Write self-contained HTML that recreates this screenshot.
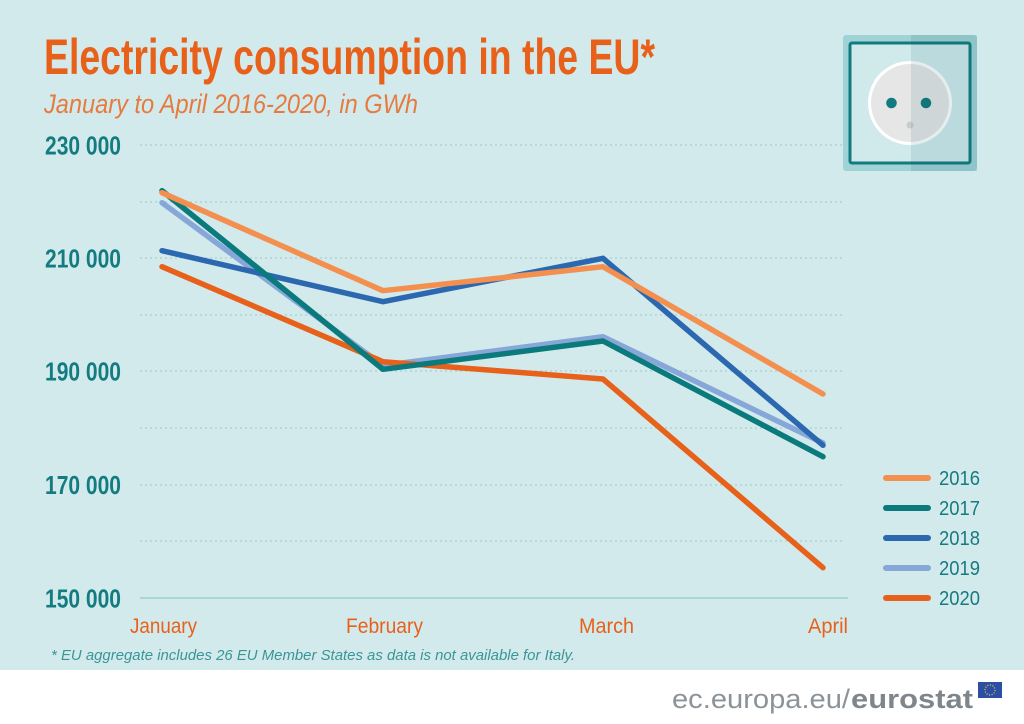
<!DOCTYPE html>
<html><head><meta charset="utf-8"><style>
html,body{margin:0;padding:0;background:#fff;}
svg{display:block;}
</style></head><body>
<svg width="1024" height="724" viewBox="0 0 1024 724" xmlns="http://www.w3.org/2000/svg">
<rect x="0" y="0" width="1024" height="670" fill="#D3EAEC"/>
<rect x="0" y="670" width="1024" height="54" fill="#FFFFFF"/>

<!-- Title -->
<text x="44" y="74" font-family="Liberation Sans Narrow, Liberation Sans, sans-serif" font-weight="bold" font-size="50" fill="#E8611A" textLength="611" lengthAdjust="spacingAndGlyphs">Electricity consumption in the EU*</text>
<text x="44" y="113" font-family="Liberation Sans Narrow, Liberation Sans, sans-serif" font-style="italic" font-size="27" fill="#E57B3F" textLength="374" lengthAdjust="spacingAndGlyphs">January to April 2016-2020, in GWh</text>

<!-- Socket icon -->
<rect x="843" y="35" width="134" height="136" rx="3" fill="#9FD3D6"/>
<rect x="850" y="43" width="120" height="120" rx="2" fill="#D0EAEC" stroke="#127B80" stroke-width="3"/>
<circle cx="910" cy="103" r="42" fill="#FFFFFF"/>
<circle cx="910" cy="103" r="39" fill="#E6E6E6"/>
<circle cx="891.5" cy="103" r="5.3" fill="#127B80"/>
<circle cx="926" cy="103" r="5.3" fill="#127B80"/>
<circle cx="910" cy="125" r="3.5" fill="#C9CCCD"/>
<rect x="911" y="35" width="66" height="136" fill="#0A4A55" fill-opacity="0.10"/>

<!-- Gridlines -->
<g stroke="#A9CDD0" stroke-width="1.2" stroke-dasharray="2,3">
<line x1="140" y1="145" x2="845" y2="145"/>
<line x1="140" y1="202" x2="845" y2="202"/>
<line x1="140" y1="258" x2="845" y2="258"/>
<line x1="140" y1="315" x2="845" y2="315"/>
<line x1="140" y1="371" x2="845" y2="371"/>
<line x1="140" y1="428" x2="845" y2="428"/>
<line x1="140" y1="485" x2="845" y2="485"/>
<line x1="140" y1="541" x2="845" y2="541"/>
</g>
<line x1="140" y1="598" x2="848" y2="598" stroke="#9DCFD0" stroke-width="1.5"/>

<!-- Y labels -->
<g font-family="Liberation Sans Narrow, Liberation Sans, sans-serif" font-weight="bold" font-size="26" fill="#137C80">
<text x="45" y="154.5" textLength="76" lengthAdjust="spacingAndGlyphs">230 000</text>
<text x="45" y="267.5" textLength="76" lengthAdjust="spacingAndGlyphs">210 000</text>
<text x="45" y="380.5" textLength="76" lengthAdjust="spacingAndGlyphs">190 000</text>
<text x="45" y="494" textLength="76" lengthAdjust="spacingAndGlyphs">170 000</text>
<text x="45" y="607.5" textLength="76" lengthAdjust="spacingAndGlyphs">150 000</text>
</g>

<!-- X labels -->
<g font-family="Liberation Sans Narrow, Liberation Sans, sans-serif" font-size="21" fill="#E8611A">
<text x="130" y="633" textLength="67" lengthAdjust="spacingAndGlyphs">January</text>
<text x="346" y="633" textLength="77" lengthAdjust="spacingAndGlyphs">February</text>
<text x="579" y="633" textLength="55" lengthAdjust="spacingAndGlyphs">March</text>
<text x="808" y="633" textLength="40" lengthAdjust="spacingAndGlyphs">April</text>
</g>

<!-- Series -->
<g fill="none" stroke-width="5.5" stroke-linecap="round" stroke-linejoin="round">
<polyline stroke="#86A7D8" points="162,202.7 383,365.5 603,336.7 823,443"/>
<polyline stroke="#2C68B0" points="162,250.7 383,301.7 603,258.3 823,445.3"/>
<polyline stroke="#E8611A" points="162,266.7 383,361.7 603,379 823,567.7"/>
<polyline stroke="#0B7A7D" points="162,190.7 383,369.3 603,341 823,456.7"/>
<polyline stroke="#F4904F" points="162,192.7 383,290.7 603,266.7 823,394"/>
</g>

<!-- Legend -->
<g stroke-width="6" stroke-linecap="round">
<line x1="886" y1="478" x2="928" y2="478" stroke="#F4904F"/>
<line x1="886" y1="508" x2="928" y2="508" stroke="#0B7A7D"/>
<line x1="886" y1="538" x2="928" y2="538" stroke="#2C68B0"/>
<line x1="886" y1="568" x2="928" y2="568" stroke="#86A7D8"/>
<line x1="886" y1="598" x2="928" y2="598" stroke="#E8611A"/>
</g>
<g font-family="Liberation Sans Narrow, Liberation Sans, sans-serif" font-size="20" fill="#167B80">
<text x="939" y="485" textLength="41" lengthAdjust="spacingAndGlyphs">2016</text>
<text x="939" y="515" textLength="41" lengthAdjust="spacingAndGlyphs">2017</text>
<text x="939" y="545" textLength="41" lengthAdjust="spacingAndGlyphs">2018</text>
<text x="939" y="575" textLength="41" lengthAdjust="spacingAndGlyphs">2019</text>
<text x="939" y="605" textLength="41" lengthAdjust="spacingAndGlyphs">2020</text>
</g>

<!-- Footnote -->
<text x="51" y="660" font-family="Liberation Sans Narrow, Liberation Sans, sans-serif" font-style="italic" font-size="15" fill="#3A9597" textLength="524" lengthAdjust="spacingAndGlyphs">* EU aggregate includes 26 EU Member States as data is not available for Italy.</text>

<!-- Footer -->
<text x="672" y="708" font-family="Liberation Sans, sans-serif" font-size="27" fill="#8C9398" textLength="178" lengthAdjust="spacingAndGlyphs">ec.europa.eu/</text>
<text x="851" y="708" font-family="Liberation Sans, sans-serif" font-weight="bold" font-size="27" fill="#7E868C" textLength="122" lengthAdjust="spacingAndGlyphs">eurostat</text>
<rect x="978" y="682" width="24" height="16" fill="#2C4FA6"/>
<circle cx="990" cy="690" r="5" fill="none" stroke="#F2D22E" stroke-width="1.2" stroke-dasharray="1,1.6"/>
</svg>
</body></html>
